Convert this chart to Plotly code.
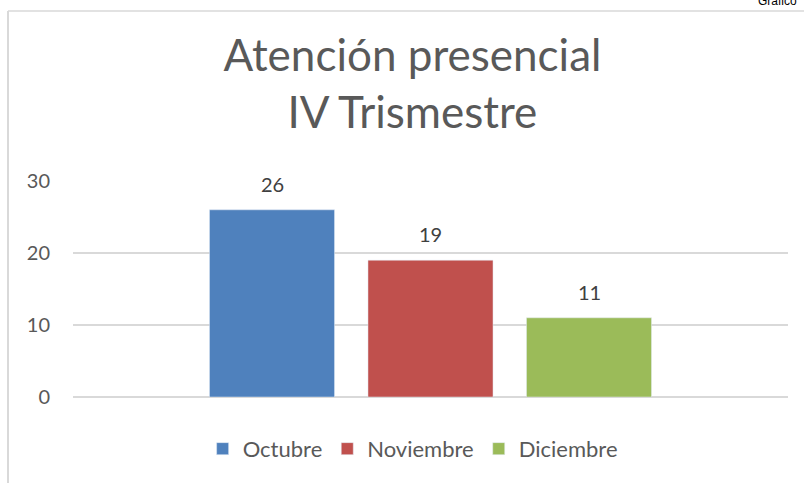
import plotly.graph_objects as go

# Datos del gráfico
meses = ["Octubre", "Noviembre", "Diciembre"]
atenciones = [26, 19, 11]
colores = ["#4f81bd", "#c0504d", "#9bbb59"]
categoria = ["IV Trimestre"]
y_ticks = [0, 10, 20, 30]

fig = go.Figure()

for mes, valor, color in zip(meses, atenciones, colores):
    fig.add_trace(go.Bar(x=categoria, y=[valor], name=mes, marker_color=color))

# etiquetas de datos encima de cada barra (desplazadas por ranura del grupo)
slot_px = 158.5
for i, valor in enumerate(atenciones):
    fig.add_annotation(x=categoria[0], y=valor, text=str(valor), showarrow=False,
                       xshift=(i - 1) * slot_px, yshift=12, yanchor="bottom",
                       font=dict(family="Lato", size=20, color="#404040"))

# texto recortado arriba a la derecha
fig.add_annotation(xref="paper", yref="paper", x=0.955, y=1.8356, text="Gráfico",
                   showarrow=False, xanchor="left", yanchor="middle",
                   font=dict(family="Liberation Sans", size=12, color="#000000"))

# borde del área del gráfico
fig.add_shape(type="line", xref="paper", yref="paper", x0=-0.0909, x1=-0.0909,
              y0=1.787, y1=-0.45, line=dict(color="#d9d9d9", width=2))
fig.add_shape(type="line", xref="paper", yref="paper", x0=-0.0909, x1=1.03,
              y0=1.787, y1=1.787, line=dict(color="#d9d9d9", width=1.5))

fig.update_layout(
    width=804, height=483,
    margin=dict(l=73, r=16, t=181, b=86),
    paper_bgcolor="white", plot_bgcolor="white",
    barmode="group", bargap=0.335, bargroupgap=0.211,
    title=dict(text="Atención presencial<br>IV Trismestre", x=0.513, xanchor="center",
               y=1 - 71 / 483, yanchor="top",
               font=dict(family="Lato", size=44, color="#595959")),
    font=dict(family="Lato", color="#595959"),
    legend=dict(orientation="h", x=0.475, xanchor="center", y=-0.24, yanchor="middle",
                font=dict(family="Lato", size=22, color="#595959")),
    showlegend=True,
)
fig.update_xaxes(showticklabels=False, showgrid=False, showline=False)
fig.update_yaxes(range=[0, 30], tickvals=y_ticks, showgrid=True, gridcolor="#d9d9d9",
                 gridwidth=1.5, zeroline=True, zerolinecolor="#d9d9d9", zerolinewidth=1.5,
                 ticklabelstandoff=22, tickfont=dict(family="Lato", size=20, color="#595959"))

# quitar el margen del body para que la figura ocupe la ventana
fig.write_html("out.html", config={"displayModeBar": False},
               post_script="document.body.style.margin='0';")
